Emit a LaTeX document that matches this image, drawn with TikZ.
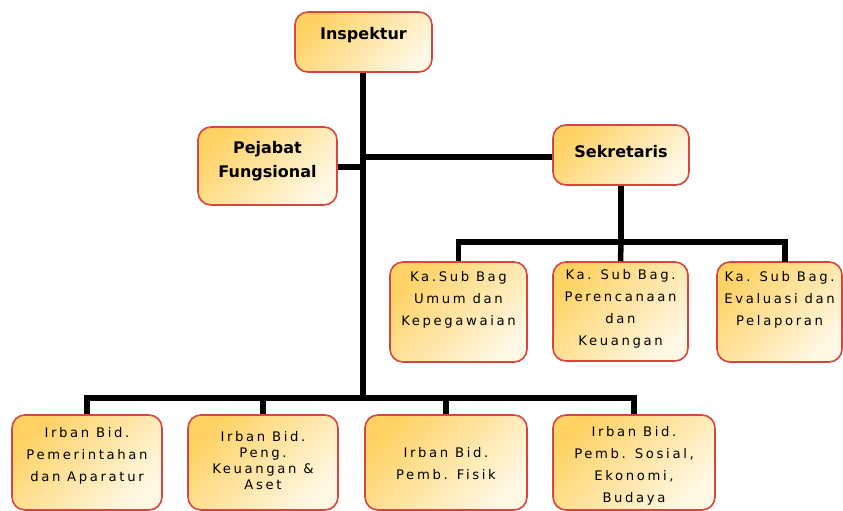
\documentclass[tikz,border=0pt]{standalone}
\usepackage{fontspec}
\setmainfont{DejaVu Sans}
\newfontfamily\boxfont[LetterSpace=20]{DejaVu Sans}
\definecolor{boxA}{RGB}{255,210,100}
\definecolor{boxB}{RGB}{255,248,228}
\definecolor{boxred}{RGB}{215,70,62}
\begin{document}
\begin{tikzpicture}[x=1pt,y=-1pt,
  box/.style={draw=boxred, line width=1.6pt, rounded corners=13pt, left color=boxA, right color=boxB, shading angle=45, inner sep=0pt},
  head/.style={font=\fontsize{16}{24}\selectfont\bfseries, align=center, inner sep=0pt},
  txt/.style={font=\boxfont\fontsize{13.2}{22}\selectfont, align=center, inner sep=0pt},
  link/.style={line width=5.5pt, black}]
\useasboundingbox (0,0) rectangle (843,511);

% boxes
\node[box, minimum width=137pt, minimum height=60pt] (insp) at (363.5,42) {};
\node[box, minimum width=139pt, minimum height=78pt] (peja) at (267.5,166) {};
\node[box, minimum width=136pt, minimum height=60pt] (sekr) at (621,155) {};
\node[box, minimum width=137pt, minimum height=100pt] (umum) at (458.5,312) {};
\node[box, minimum width=135pt, minimum height=99pt] (renc) at (620.5,311.5) {};
\node[box, minimum width=125pt, minimum height=100pt] (eval) at (779.5,312) {};
\node[box, minimum width=150pt, minimum height=95pt] (pem) at (87,462.5) {};
\node[box, minimum width=150pt, minimum height=95pt] (keu) at (263,462.5) {};
\node[box, minimum width=162pt, minimum height=95pt] (fis) at (446,462.5) {};
\node[box, minimum width=162pt, minimum height=95pt] (sos) at (634,462.5) {};

% texts
\node[head] (insp-t) at (363.5,35) {Inspektur};
\node[head] (peja-t) at (267.5,161) {Pejabat\\Fungsional};
\node[head] (sekr-t) at (621,152) {Sekretaris};
\node[txt] (umum-t) at (458.5,300) {Ka.Sub Bag\\Umum dan\\Kepegawaian};
\node[txt] (renc-t) at (620.5,309) {Ka. Sub Bag.\\Perencanaan\\dan\\Keuangan};
\node[txt] (eval-t) at (779.5,300) {Ka. Sub Bag.\\Evaluasi dan\\Pelaporan};
\node[txt] (pem-t) at (87,456) {Irban Bid.\\Pemerintahan\\dan Aparatur};
\node[txt, font=\boxfont\fontsize{13.2}{16}\selectfont] (keu-t) at (263,461) {Irban Bid.\\Peng.\\Keuangan \&\\Aset};
\node[txt] (fis-t) at (446,464) {Irban Bid.\\Pemb. Fisik};
\node[txt] (sos-t) at (634,466) {Irban Bid.\\Pemb. Sosial,\\Ekonomi,\\Budaya};

% bus coordinates
\coordinate (bbus) at (363,398);
\coordinate (sbus) at (621,242);
\coordinate (sekj) at (363,157);
\coordinate (pejj) at (363,167);
\coordinate (evd) at (785,262);

% connectors
\draw[link] (insp.south -| bbus) -- (bbus);
\draw[link] (sekj) -- (sekj -| sekr.west);
\draw[link] (peja.east |- pejj) -- (pejj);
\draw[link] (sekr.south) -- (sbus);
\draw[link, line cap=rect] (umum.north |- sbus) -- (evd |- sbus);
\draw[link] (umum.north |- sbus) -- (umum.north);
\draw[link] (sbus) -- (renc.north);
\draw[link] (evd |- sbus) -- (evd);
\draw[link, line cap=rect] (pem.north |- bbus) -- (sos.north |- bbus);
\draw[link] (pem.north |- bbus) -- (pem.north);
\draw[link] (keu.north |- bbus) -- (keu.north);
\draw[link] (fis.north |- bbus) -- (fis.north);
\draw[link] (sos.north |- bbus) -- (sos.north);
\end{tikzpicture}
\end{document}
